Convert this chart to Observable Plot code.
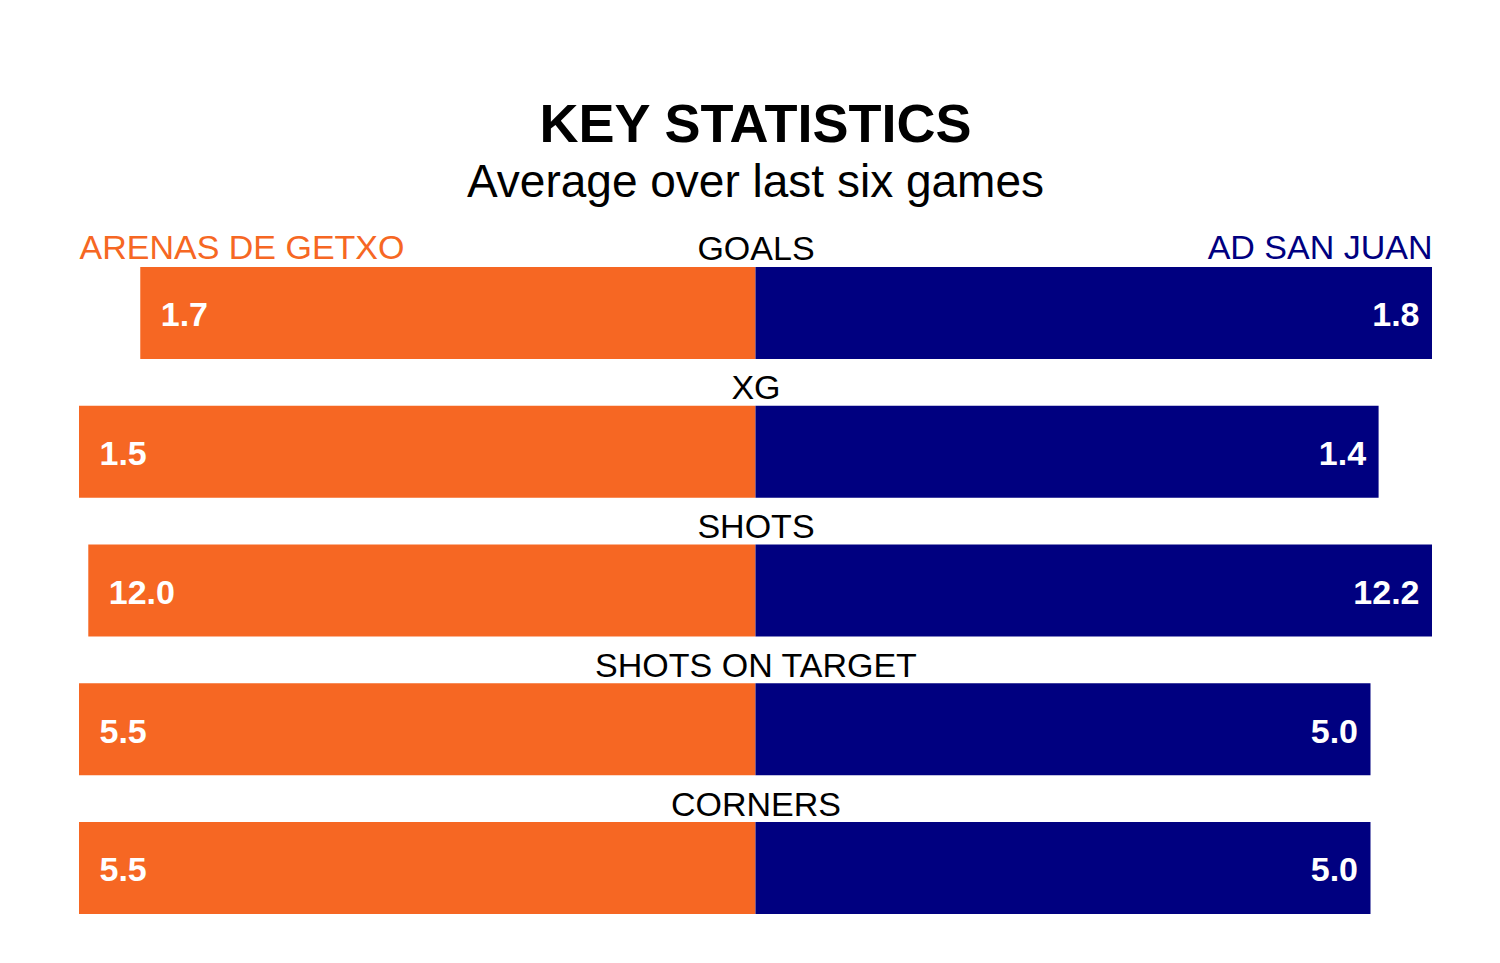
<!DOCTYPE html>
<html>
<head>
<meta charset="utf-8">
<script src="https://cdn.jsdelivr.net/npm/d3@7"></script>
<script src="https://cdn.jsdelivr.net/npm/@observablehq/plot@0.6"></script>
<style>
  html, body { margin: 0; padding: 0; background: #fff; }
  #wrap { position: relative; width: 1500px; height: 963px; font-family: "Liberation Sans", Arial, Helvetica, sans-serif; }
  #header { position: relative; width: 1500px; height: 220px; }
  #title { position: absolute; left: 0; width: 1511px; top: 96px; text-align: center; font-size: 54px; line-height: 54px; font-weight: bold; color: #000; }
  #subtitle { position: absolute; left: 0; width: 1511px; top: 158px; text-align: center; font-size: 46px; line-height: 46px; color: #000; }
  svg { display: block; }
</style>
</head>
<body>
<div id="wrap">
  <div id="header">
    <div id="title">KEY STATISTICS</div>
    <div id="subtitle">Average over last six games</div>
  </div>
  <div id="chart"></div>
</div>
<script>
const stats = ["GOALS", "XG", "SHOTS", "SHOTS ON TARGET", "CORNERS"];
const homeValues = [1.667, 1.52, 12.0, 5.5, 5.5];
const awayValues = [1.833, 1.40, 12.167, 5.0, 5.0];
const homeTeam = "ARENAS DE GETXO";
const awayTeam = "AD SAN JUAN";
const homeColor = "#f66723";
const awayColor = "#000080";

const rows = stats.map((s, i) => {
  const m = Math.max(homeValues[i], awayValues[i]);
  return {
    stat: s,
    home: homeValues[i],
    away: awayValues[i],
    hx: -homeValues[i] / m,
    ax: awayValues[i] / m
  };
});

const font = "Liberation Sans, Arial, Helvetica, sans-serif";

const chart = Plot.plot({
  width: 1500,
  height: 743,
  marginLeft: 79,
  marginRight: 68,
  marginTop: 47,
  marginBottom: 49,
  style: { fontFamily: font, background: "#fff" },
  x: { domain: [-1, 1], axis: null },
  y: { domain: stats, axis: null, paddingInner: 0.337, paddingOuter: 0, round: false },
  marks: [
    Plot.barX(rows, { y: "stat", x1: 0, x2: "hx", fill: homeColor }),
    Plot.barX(rows, { y: "stat", x1: 0, x2: "ax", fill: awayColor }),
    Plot.text(rows, {
      y: "stat", x: 0, text: "stat", textAnchor: "middle", lineAnchor: "bottom",
      dy: -53, fontSize: 34, fill: "#000"
    }),
    Plot.text(rows, {
      y: "stat", x: "hx", text: d => d.home.toFixed(1), textAnchor: "start",
      lineAnchor: "middle", dx: 20, dy: 2, fontSize: 34, fontWeight: "bold", fill: "#fff"
    }),
    Plot.text(rows, {
      y: "stat", x: "ax", text: d => d.away.toFixed(1), textAnchor: "end",
      lineAnchor: "middle", dx: -13, dy: 2, fontSize: 34, fontWeight: "bold", fill: "#fff"
    }),
    Plot.text([{ stat: stats[0], team: homeTeam }], {
      y: "stat", x: () => -1, text: "team", textAnchor: "start", lineAnchor: "bottom",
      dy: -54, fontSize: 34, fill: homeColor
    }),
    Plot.text([{ stat: stats[0], team: awayTeam }], {
      y: "stat", x: () => 1, text: "team", textAnchor: "end", lineAnchor: "bottom",
      dy: -54, fontSize: 34, fill: awayColor
    })
  ]
});
document.getElementById("chart").appendChild(chart);
</script>
</body>
</html>
